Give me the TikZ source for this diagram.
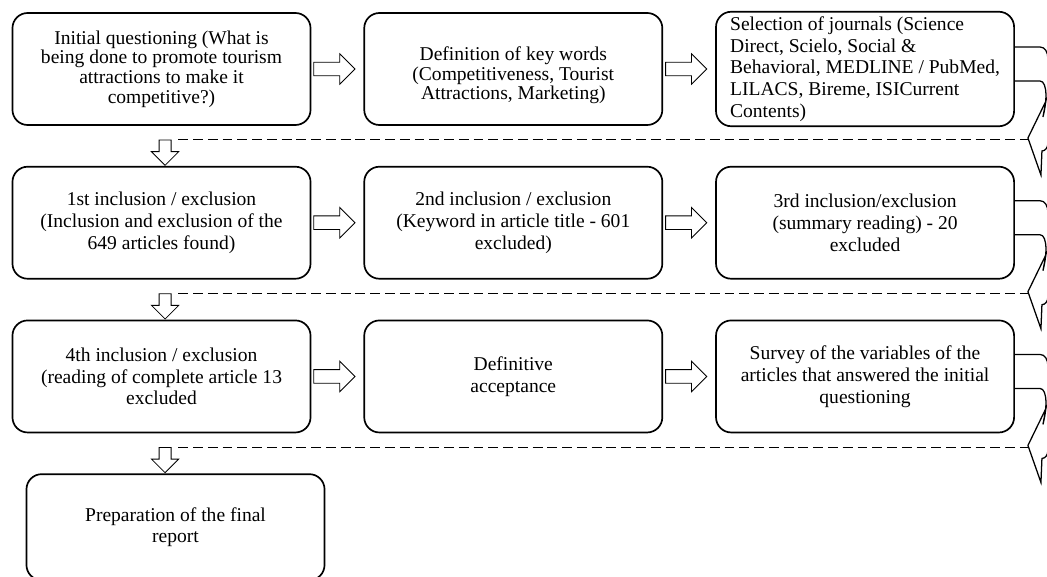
\documentclass[tikz,border=0pt]{standalone}
\usepackage{fontspec}
\setmainfont{Liberation Serif}
\usepackage{tikz}
\usetikzlibrary{positioning,shapes.arrows}

% curved arrow on the right of a box, #2 = its tip
\newcommand{\backarrow}[2]{%
\begin{scope}[shift={([yshift=0.55cm]#1.east)}]
\draw[line width=0.9pt] (0,0) -- (25,0) .. controls (30,0) and (33,5) .. (33,12) -- (33,96)
  .. controls (33,101) and (30,104) .. (27,104) -- (26,128) -- (13,91) -- (31,54) -- (28,70)
  .. controls (30,62) and (31,56) .. (31,48) .. controls (31,40) and (29,34) .. (25,34) -- (0,34);
\coordinate (#2) at (13,91);
\end{scope}}

\begin{document}
\begin{tikzpicture}[x=0.025cm,y=-0.025cm,
 box/.style={draw,rounded corners=0.38cm,line width=1.2pt,minimum width=7.45cm,minimum height=2.8cm,align=center,font=\fontsize{13.9}{15.5}\selectfont},
 rarrow/.style={single arrow,draw,line width=0.6pt,inner sep=0.16cm,single arrow head extend=0.21cm,minimum height=1.03cm,anchor=tail},
 darrow/.style={single arrow,draw,line width=0.6pt,inner sep=0.14cm,single arrow head extend=0.19cm,minimum height=0.63cm,rotate=-90,anchor=tip},
 dashline/.style={dash pattern=on 7pt off 3.5pt,line width=0.7pt}]
\useasboundingbox (0,0) rectangle (1047,577);

\node[box,font=\fontsize{13.9}{14}\selectfont] (A) at (161.5,69) {Initial questioning (What is\\being done to promote tourism\\attractions to make it\\competitive?)};
\node[box,font=\fontsize{13.9}{14}\selectfont,text height=1.65cm] (B) [right=1.3cm of A] {Definition of key words\\(Competitiveness, Tourist\\Attractions, Marketing)};
\node[box,align=left] (C) [right=1.3cm of B] {Selection of journals (Science\\Direct, Scielo, Social \&\\Behavioral, MEDLINE / PubMed,\\LILACS, Bireme, ISICurrent\\Contents)};

\node[box] (D) [below=1cm of A] {1st inclusion / exclusion\\(Inclusion and exclusion of the\\649 articles found)};
\node[box] (E) [right=1.3cm of D] {2nd inclusion / exclusion\\(Keyword in article title - 601\\excluded)};
\node[box] (F) [right=1.3cm of E] {3rd inclusion/exclusion\\(summary reading) - 20\\excluded};

\node[box] (G) [below=1cm of D] {4th inclusion / exclusion\\(reading of complete article 13\\excluded};
\node[box] (H) [right=1.3cm of G] {Definitive\\acceptance};
\node[box] (I) [right=1.3cm of H] {Survey of the variables of the\\articles that answered the initial\\questioning};

\node[box,minimum height=2.65cm] (J) [below=1cm of G,xshift=0.35cm] {Preparation of the final\\report};

\node[rarrow] (ab) at ([xshift=0.05cm]A.east) {};
\node[rarrow] (bc) at ([xshift=0.05cm]B.east) {};
\node[rarrow] (de) at ([xshift=0.05cm]D.east) {};
\node[rarrow] (ef) at ([xshift=0.05cm]E.east) {};
\node[rarrow] (gh) at ([xshift=0.05cm]G.east) {};
\node[rarrow] (hi) at ([xshift=0.05cm]H.east) {};

\node[darrow] (ad) at ([xshift=0.09cm]D.north) {};
\node[darrow] (dg) at ([xshift=0.09cm]G.north) {};
\node[darrow] (gj) at ([xshift=0.09cm]G.south |- J.north) {};

\backarrow{C}{tc}
\backarrow{F}{tf}
\backarrow{I}{ti}

\draw[dashline] ([xshift=0.33cm]ad.tail) -- (ad.tail -| tc);
\draw[dashline] ([xshift=0.33cm]dg.tail) -- (dg.tail -| tf);
\draw[dashline] ([xshift=0.33cm]gj.tail) -- (gj.tail -| ti);

\end{tikzpicture}
\end{document}
